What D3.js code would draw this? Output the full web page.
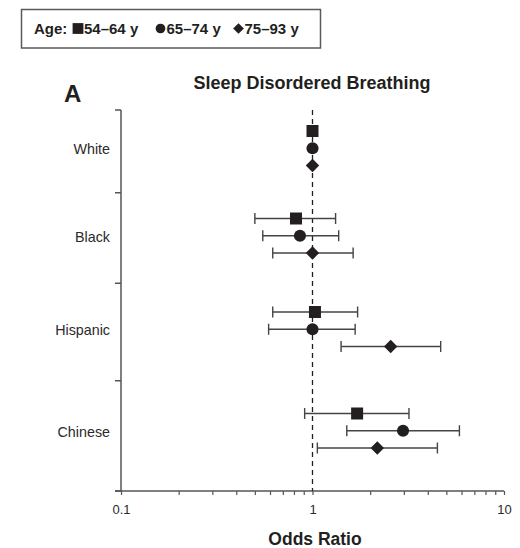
<!DOCTYPE html>
<html>
<head>
<meta charset="utf-8">
<script src="https://cdn.jsdelivr.net/npm/d3@7"></script>
<style>
  html, body { margin: 0; padding: 0; background: #fff; }
  svg { display: block; font-family: "Liberation Sans", Arial, Helvetica, sans-serif; }
</style>
</head>
<body>
<svg id="chart" width="520" height="548"></svg>
<script>
// Ethnic groups (rows) and age strata (one marker per stratum in each row)
const categories = ["White", "Black", "Hispanic", "Chinese"];
const ageGroups = ["54–64 y", "65–74 y", "75–93 y"];

// Odds ratios with 95% confidence limits; White is the reference group
const or5464 = [1, 0.82, 1.03, 1.71];
const lo5464 = [null, 0.50, 0.62, 0.91];
const hi5464 = [null, 1.32, 1.72, 3.19];

const or6574 = [1, 0.86, 1.00, 2.97];
const lo6574 = [null, 0.55, 0.59, 1.51];
const hi6574 = [null, 1.37, 1.67, 5.85];

const or7593 = [1, 1.00, 2.56, 2.18];
const lo7593 = [null, 0.62, 1.41, 1.06];
const hi7593 = [null, 1.63, 4.67, 4.49];

const xTickValues = [0.1, 1, 10];
const xMinorTicks = [0.2, 0.3, 0.4, 0.5, 0.6, 0.7, 0.8, 0.9, 2, 3, 4, 5, 6, 7, 8, 9];

const series = [
  { group: ageGroups[0], shape: "square",  or: or5464, lo: lo5464, hi: hi5464 },
  { group: ageGroups[1], shape: "circle",  or: or6574, lo: lo6574, hi: hi6574 },
  { group: ageGroups[2], shape: "diamond", or: or7593, lo: lo7593, hi: hi7593 }
];

const ink = "#231f20";
const axisColor = "#555";
const barColor = "#444";

const svg = d3.select("#chart");

// Scales
const x = d3.scaleLog().domain([0.1, 10]).range([121, 504]);
const plotTop = 110, plotBottom = 491;
const rowY = d3.scaleOrdinal().domain(categories).range([149, 236.5, 330, 431.5]);
const offset = d3.scalePoint().domain(ageGroups).range([-18, 16.5]);

// Marker generators
const symbolPath = {
  square: d3.symbol().type(d3.symbolSquare).size(144)(),
  circle: d3.symbol().type(d3.symbolCircle).size(115)(),
  diamond: d3.symbol().type(d3.symbolSquare).size(90)()
};
function drawMarker(sel, shape, cx, cy, scale) {
  const k = scale || 1;
  const rot = shape === "diamond" ? " rotate(45)" : "";
  sel.append("path")
    .attr("d", symbolPath[shape])
    .attr("transform", `translate(${cx},${cy}) scale(${k})${rot}`)
    .attr("fill", ink);
}

// Legend
const legend = svg.append("g");
legend.append("rect")
  .attr("x", 21.5).attr("y", 9.5).attr("width", 299).attr("height", 38.5)
  .attr("fill", "#fff").attr("stroke", "#5a5a5a").attr("stroke-width", 1.5);
legend.append("text")
  .attr("x", 34).attr("y", 33.5)
  .attr("font-size", 15).attr("font-weight", "bold").attr("fill", ink)
  .text("Age:");
const legendItemX = [72.5, 155, 233];
series.forEach((s, i) => {
  const lx = legendItemX[i];
  drawMarker(legend, s.shape, lx + 5.5, 28.5, s.shape === "square" ? 0.9 : 0.8);
  legend.append("text")
    .attr("x", lx + 11.5).attr("y", 33.5)
    .attr("font-size", 15).attr("font-weight", "bold").attr("fill", ink)
    .text(s.group);
});

// Panel letter and title
svg.append("text")
  .attr("x", 64).attr("y", 101.5)
  .attr("font-size", 24).attr("font-weight", "bold").attr("fill", ink)
  .text("A");
svg.append("text")
  .attr("x", 312).attr("y", 89).attr("text-anchor", "middle")
  .attr("font-size", 18).attr("font-weight", "bold").attr("fill", ink)
  .text("Sleep Disordered Breathing");

// Y axis: vertical line with separator ticks between rows
const centers = categories.map(c => rowY(c));
const separators = [plotTop]
  .concat(d3.pairs(centers).map(([a, b]) => (a + b) / 2))
  .concat([plotBottom]);
const yAxis = svg.append("g");
yAxis.append("line")
  .attr("x1", x.range()[0]).attr("x2", x.range()[0])
  .attr("y1", plotTop).attr("y2", plotBottom)
  .attr("stroke", axisColor).attr("stroke-width", 1.5);
yAxis.selectAll("line.sep")
  .data(separators)
  .join("line")
  .attr("class", "sep")
  .attr("x1", x.range()[0] - 6).attr("x2", x.range()[0])
  .attr("y1", d => d).attr("y2", d => d)
  .attr("stroke", axisColor).attr("stroke-width", 1.5);

// Row labels
svg.append("g").selectAll("text")
  .data(categories)
  .join("text")
  .attr("x", 110).attr("y", d => rowY(d) + 5)
  .attr("text-anchor", "end")
  .attr("font-size", 14.3).attr("fill", "#2a2a2a")
  .text(d => d);

// X axis (log scale): labelled decades plus minor ticks
const xAxisG = svg.append("g").attr("transform", `translate(0,${plotBottom})`);
xAxisG.call(
  d3.axisBottom(x)
    .tickValues(xTickValues.concat(xMinorTicks))
    .tickSize(4)
    .tickSizeOuter(0)
    .tickFormat(d => xTickValues.includes(d) ? d3.format("~g")(d) : "")
);
xAxisG.select(".domain").remove();
xAxisG.insert("line", ":first-child")
  .attr("x1", x.range()[0] - 6).attr("x2", x.range()[1])
  .attr("y1", 0).attr("y2", 0)
  .attr("stroke", axisColor).attr("stroke-width", 1.5);
xAxisG.selectAll(".tick line").attr("stroke", axisColor).attr("stroke-width", 1.2);
xAxisG.selectAll(".tick text")
  .attr("y", 14)
  .attr("font-size", 13)
  .attr("font-family", "Liberation Sans, Arial, sans-serif")
  .attr("fill", "#2a2a2a");

svg.append("text")
  .attr("x", 315).attr("y", 545).attr("text-anchor", "middle")
  .attr("font-size", 17.5).attr("font-weight", "bold").attr("fill", ink)
  .text("Odds Ratio");

// Reference line at OR = 1
svg.append("line")
  .attr("x1", x(1)).attr("x2", x(1))
  .attr("y1", plotTop).attr("y2", plotBottom)
  .attr("stroke", ink).attr("stroke-width", 1.3)
  .attr("stroke-dasharray", "5,4");

// Error bars and point estimates
const marks = svg.append("g");
series.forEach(s => {
  categories.forEach((c, i) => {
    const cy = rowY(c) + offset(s.group);
    if (s.lo[i] != null && s.hi[i] != null) {
      const bar = marks.append("g")
        .attr("stroke", barColor).attr("stroke-width", 1.4).attr("fill", "none");
      bar.append("line")
        .attr("x1", x(s.lo[i])).attr("x2", x(s.hi[i]))
        .attr("y1", cy).attr("y2", cy);
      [s.lo[i], s.hi[i]].forEach(v => {
        bar.append("line")
          .attr("x1", x(v)).attr("x2", x(v))
          .attr("y1", cy - 5.5).attr("y2", cy + 5.5);
      });
    }
    drawMarker(marks, s.shape, x(s.or[i]), cy);
  });
});
</script>
</body>
</html>
